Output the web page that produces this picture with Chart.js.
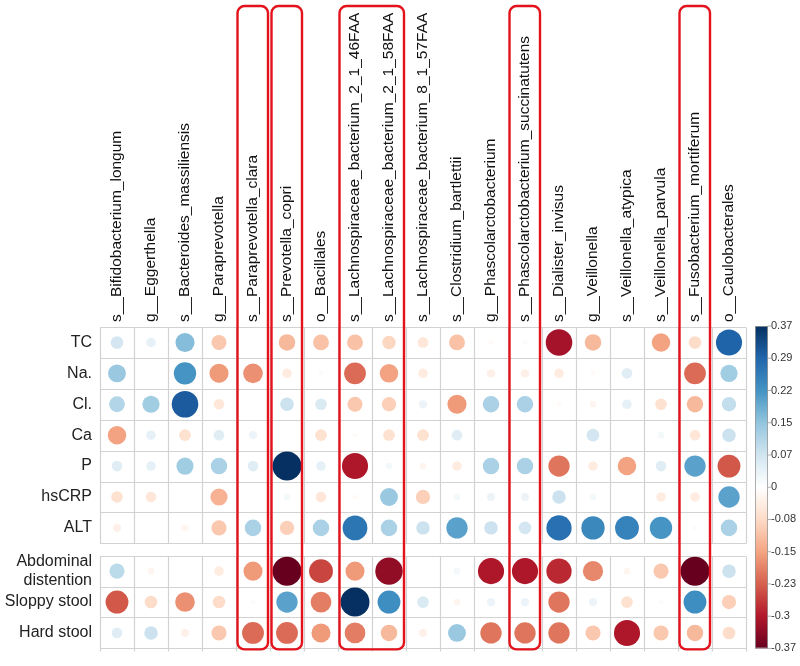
<!DOCTYPE html>
<html>
<head>
<meta charset="utf-8">
<script src="https://cdn.jsdelivr.net/npm/chart.js@4/dist/chart.umd.min.js"></script>
<style>
  html, body { margin: 0; padding: 0; background: #fff; }
  #wrap { width: 800px; height: 666px; position: relative; }
</style>
</head>
<body>
<div id="wrap"><canvas id="chart"></canvas></div>
<script>
// taxa (columns)
const columns = [
    "s__Bifidobacterium_longum", "g__Eggerthella", "s__Bacteroides_massiliensis",
    "g__Paraprevotella", "s__Paraprevotella_clara", "s__Prevotella_copri",
    "o__Bacillales", "s__Lachnospiraceae_bacterium_2_1_46FAA",
    "s__Lachnospiraceae_bacterium_2_1_58FAA", "s__Lachnospiraceae_bacterium_8_1_57FAA",
    "s__Clostridium_bartlettii", "g__Phascolarctobacterium",
    "s__Phascolarctobacterium_succinatutens", "s__Dialister_invisus", "g__Veillonella",
    "s__Veillonella_atypica", "s__Veillonella_parvula", "s__Fusobacterium_mortiferum",
    "o__Caulobacterales"
];

// clinical variables (rows)
const rows = ["TC", "Na.", "Cl.", "Ca", "P", "hsCRP", "ALT",
    ["Abdominal", "distention"], "Sloppy stool", "Hard stool"];

// correlation values per row (null = blank cell)
const valuesTC     = [0.07, 0.04, 0.16, -0.10, null, -0.12, -0.11, -0.11, -0.08, -0.05, -0.11, -0.01, 0.01, -0.31, -0.12, null, -0.15, -0.07, 0.30];
const valuesNa     = [0.14, null, 0.22, -0.16, -0.17, -0.04, 0.01, -0.21, -0.15, -0.04, null, -0.03, -0.03, -0.04, -0.01, 0.05, null, -0.21, 0.13];
const valuesCl     = [0.11, 0.13, 0.31, -0.05, null, 0.08, 0.06, -0.10, -0.09, 0.03, -0.16, 0.12, 0.12, -0.01, -0.02, 0.04, -0.06, -0.12, 0.09];
const valuesCa     = [-0.15, 0.04, -0.06, 0.05, 0.03, 0.005, -0.06, -0.01, -0.06, -0.06, 0.05, null, null, null, 0.07, null, 0.02, -0.05, 0.08];
const valuesP      = [0.05, 0.04, 0.13, 0.12, 0.05, 0.37, 0.04, -0.30, 0.02, -0.02, -0.04, 0.12, 0.12, -0.20, -0.04, -0.15, 0.05, 0.20, -0.23];
const valuesHsCRP  = [-0.06, -0.05, null, -0.13, -0.005, 0.02, -0.05, -0.01, 0.14, -0.09, 0.02, 0.03, 0.03, 0.08, 0.02, null, -0.04, -0.04, 0.20];
const valuesALT    = [-0.03, null, -0.02, -0.10, 0.12, -0.09, 0.12, 0.27, 0.12, 0.08, 0.20, 0.08, 0.07, 0.28, 0.24, 0.25, 0.22, 0.01, 0.12];
const valuesAbd    = [0.10, -0.02, null, -0.04, -0.16, -0.37, -0.25, -0.16, -0.33, null, 0.02, -0.30, -0.30, -0.28, -0.18, -0.02, -0.10, -0.37, 0.08];
const valuesSloppy = [-0.23, -0.07, -0.17, -0.07, 0.01, 0.20, -0.19, 0.37, 0.23, 0.06, -0.02, 0.03, 0.03, -0.20, 0.03, -0.06, 0.01, 0.23, -0.09];
const valuesHard   = [0.05, 0.08, -0.03, -0.10, -0.21, -0.21, -0.16, -0.19, -0.12, -0.03, 0.14, -0.20, -0.20, -0.20, -0.10, -0.30, -0.10, -0.12, -0.07];

const rowValues = [valuesTC, valuesNa, valuesCl, valuesCa, valuesP, valuesHsCRP,
    valuesALT, valuesAbd, valuesSloppy, valuesHard];

// colour bar tick labels
const colorbarTicks = ["0.37", "0.29", "0.22", "0.15", "0.07", "0", "-0.08", "-0.15", "-0.23", "-0.3", "-0.37"];

// highlighted column groups (red boxes)
const highlightGroups = [[4, 4], [5, 5], [7, 8], [12, 12], [17, 17]];

const LIMIT = 0.37;
const MAX_R = 14.5;
const GAP = 0.4;
const FONT = "'Liberation Sans', Arial, sans-serif";

// RdBu palette, low -> high
const palette = ["#67001F", "#B2182B", "#D6604D", "#F4A582", "#FDDBC7", "#FFFFFF",
    "#D1E5F0", "#92C5DE", "#4393C3", "#2166AC", "#053061"];

function hexToRgb(h) {
    return [parseInt(h.slice(1, 3), 16), parseInt(h.slice(3, 5), 16), parseInt(h.slice(5, 7), 16)];
}

function colorFor(v) {
    let t = (v + LIMIT) / (2 * LIMIT);
    t = Math.max(0, Math.min(1, t)) * (palette.length - 1);
    const i = Math.min(Math.floor(t), palette.length - 2);
    const f = t - i;
    const a = hexToRgb(palette[i]), b = hexToRgb(palette[i + 1]);
    const c = a.map((x, k) => Math.round(x + (b[k] - x) * f));
    return `rgb(${c[0]},${c[1]},${c[2]})`;
}

const rowPos = rows.map((_, i) => i < 7 ? i : i + GAP);

const points = [];
rowValues.forEach((vals, ri) => {
    vals.forEach((v, ci) => {
        if (v === null) return;
        points.push({ x: ci, y: rowPos[ri], r: MAX_R * Math.sqrt(Math.min(Math.abs(v), LIMIT) / LIMIT), v });
    });
});

const cellGrid = {
    id: "cellGrid",
    beforeDatasetsDraw(chart) {
        const { ctx, scales: { x, y } } = chart;
        ctx.save();
        ctx.strokeStyle = "#d2d2d2";
        ctx.lineWidth = 1.2;
        [[0, 6], [7, 9]].forEach(([a, b]) => {
            const top = Math.round(y.getPixelForValue(rowPos[a] - 0.5)) + 0.5;
            const bot = Math.round(y.getPixelForValue(rowPos[b] + 0.5)) + 0.5;
            ctx.beginPath();
            for (let i = a; i <= b; i++) {
                const yy = Math.round(y.getPixelForValue(rowPos[i] - 0.5)) + 0.5;
                ctx.moveTo(x.getPixelForValue(-0.5), yy);
                ctx.lineTo(x.getPixelForValue(columns.length - 0.5), yy);
            }
            ctx.moveTo(x.getPixelForValue(-0.5), bot);
            ctx.lineTo(x.getPixelForValue(columns.length - 0.5), bot);
            for (let c = 0; c <= columns.length; c++) {
                const xx = Math.round(x.getPixelForValue(c - 0.5)) + 0.5;
                ctx.moveTo(xx, top);
                ctx.lineTo(xx, bot + (b === 9 ? 3 : 0));
            }
            ctx.stroke();
        });
        ctx.restore();
    }
};

const redBoxes = {
    id: "redBoxes",
    afterDatasetsDraw(chart) {
        const { ctx, scales: { x, y } } = chart;
        const top = 6;
        const bot = y.getPixelForValue(rowPos[rows.length - 1] + 0.5) + 1;
        ctx.save();
        ctx.strokeStyle = "#e3121b";
        ctx.lineWidth = 2.4;
        highlightGroups.forEach(([s, e]) => {
            const l = x.getPixelForValue(s - 0.5) + 1.5;
            const r = x.getPixelForValue(e + 0.5) - 2;
            const rad = 7;
            ctx.beginPath();
            ctx.moveTo(l + rad, top);
            ctx.lineTo(r - rad, top);
            ctx.arcTo(r, top, r, top + rad, rad);
            ctx.lineTo(r, bot - rad);
            ctx.arcTo(r, bot, r - rad, bot, rad);
            ctx.lineTo(l + rad, bot);
            ctx.arcTo(l, bot, l, bot - rad, rad);
            ctx.lineTo(l, top + rad);
            ctx.arcTo(l, top, l + rad, top, rad);
            ctx.closePath();
            ctx.stroke();
        });
        ctx.restore();
    }
};

const colorBar = {
    id: "colorBar",
    afterDraw(chart) {
        const { ctx, chartArea } = chart;
        const left = 755, w = 13;
        const top = chartArea.top - 1, bot = chartArea.bottom;
        ctx.save();
        const g = ctx.createLinearGradient(0, top, 0, bot);
        palette.slice().reverse().forEach((c, i) => g.addColorStop(i / (palette.length - 1), c));
        ctx.fillStyle = g;
        ctx.fillRect(left, top, w, bot - top);
        ctx.strokeStyle = "#9a9a9a";
        ctx.lineWidth = 0.8;
        ctx.strokeRect(left + 0.5, top + 0.5, w - 1, bot - top - 1);
        ctx.fillStyle = "#333";
        ctx.font = "11px " + FONT;
        ctx.textBaseline = "middle";
        ctx.textAlign = "left";
        colorbarTicks.forEach((lab, i) => {
            const yy = top + i * (bot - top) / (colorbarTicks.length - 1);
            ctx.beginPath();
            ctx.moveTo(left + w, yy);
            ctx.lineTo(left + w + 3, yy);
            ctx.stroke();
            ctx.fillText(lab, left + w + 3, yy);
        });
        ctx.restore();
    }
};

new Chart(document.getElementById("chart"), {
    type: "bubble",
    data: {
        datasets: [{
            data: points,
            backgroundColor: ctx => colorFor(ctx.raw ? ctx.raw.v : 0),
            borderWidth: 0
        }]
    },
    options: {
        responsive: true,
        maintainAspectRatio: false,
        animation: false,
        layout: { padding: { top: 0, left: 0, right: 54, bottom: 14 } },
        plugins: { legend: { display: false }, tooltip: { enabled: false } },
        scales: {
            x: {
                type: "linear",
                position: "top",
                min: -0.5,
                max: columns.length - 0.5,
                afterBuildTicks: scale => { scale.ticks = columns.map((_, i) => ({ value: i })); },
                afterFit: scale => { scale.height = 327; },
                grid: { display: false, drawTicks: false },
                border: { display: false },
                ticks: {
                    autoSkip: false,
                    minRotation: 90,
                    maxRotation: 90,
                    padding: 5,
                    labelOffset: 18.5,
                    color: "#111",
                    font: { family: FONT, size: 15.5 },
                    callback: v => columns[v]
                }
            },
            y: {
                type: "linear",
                reverse: true,
                min: -0.5,
                max: rowPos[rowPos.length - 1] + 0.5,
                afterBuildTicks: scale => { scale.ticks = rowPos.map(p => ({ value: p })); },
                afterFit: scale => { scale.width = 100; },
                grid: { display: false, drawTicks: false },
                border: { display: false },
                ticks: {
                    autoSkip: false,
                    padding: 8,
                    color: "#222",
                    font: { family: FONT, size: 16 },
                    callback: v => rows[rowPos.indexOf(v)]
                }
            }
        }
    },
    plugins: [cellGrid, redBoxes, colorBar]
});
</script>
</body>
</html>
